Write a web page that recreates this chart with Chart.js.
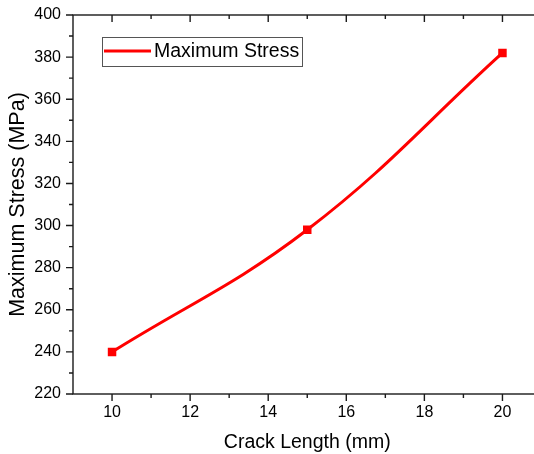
<!DOCTYPE html>
<html>
<head>
<meta charset="utf-8">
<script src="https://cdn.jsdelivr.net/npm/chart.js@4/dist/chart.umd.min.js"></script>
<style>
  html, body { margin: 0; padding: 0; background: #fff; overflow: hidden; }
  #wrap { width: 534px; height: 454px; overflow: hidden; }
  #box { width: 550px; height: 454px; }
</style>
</head>
<body>
<div id="wrap"><div id="box"><canvas id="chart"></canvas></div></div>
<script>
const crackLength = [10, 15, 20];
const maxStress = [240, 298, 382];
const seriesLabel = "Maximum Stress";

const xTicks = [10, 12, 14, 16, 18, 20];
const xMinor = [11, 13, 15, 17, 19];
const yTicks = [220, 240, 260, 280, 300, 320, 340, 360, 380, 400];
const yMinor = [230, 250, 270, 290, 310, 330, 350, 370, 390];

const FONT = "'Liberation Sans', Arial, sans-serif";
const RED = "#ff0000";

// frame, tick marks and legend box, like an Origin plot
const framePlugin = {
    id: "frame",
    afterDraw(chart) {
        const { ctx, chartArea: a, scales } = chart;
        const xs = scales.x, ys = scales.y;
        ctx.save();
        ctx.strokeStyle = "#1a1a1a";
        ctx.lineWidth = 1.4;
        ctx.strokeRect(a.left, a.top, a.right - a.left, a.bottom - a.top);

        ctx.beginPath();
        const tick = (vals, len) => {
            vals.forEach(v => {
                const px = xs.getPixelForValue(v);
                ctx.moveTo(px, a.bottom); ctx.lineTo(px, a.bottom + len);
                ctx.moveTo(px, a.top); ctx.lineTo(px, a.top + len);
            });
        };
        tick(xTicks, 7);
        tick(xMinor, 4);
        const ytick = (vals, len) => {
            vals.forEach(v => {
                const py = ys.getPixelForValue(v);
                ctx.moveTo(a.left, py); ctx.lineTo(a.left - len, py);
            });
        };
        ytick(yTicks, 7);
        ytick(yMinor, 4);
        ctx.stroke();

        // legend
        ctx.strokeStyle = "#555";
        ctx.lineWidth = 1;
        ctx.strokeRect(102.5, 37.5, 200, 29);
        ctx.strokeStyle = RED;
        ctx.lineWidth = 3;
        ctx.beginPath();
        ctx.moveTo(104, 51); ctx.lineTo(151, 51);
        ctx.stroke();
        ctx.fillStyle = "#000";
        ctx.font = "19.5px " + FONT;
        ctx.textBaseline = "middle";
        ctx.fillText(chart.data.datasets[0].label, 154, 51.5);
        ctx.restore();
    }
};

new Chart(document.getElementById("chart"), {
    type: "line",
    data: {
        datasets: [{
            label: seriesLabel,
            data: crackLength.map((x, i) => ({ x, y: maxStress[i] })),
            borderColor: RED,
            backgroundColor: RED,
            borderWidth: 3,
            tension: 0.4,
            pointStyle: "rect",
            pointRadius: 6,
            pointBorderWidth: 0,
            pointHoverRadius: 6
        }]
    },
    options: {
        responsive: true,
        maintainAspectRatio: false,
        animation: false,
        layout: { padding: { top: 15, right: 8.5, left: 0, bottom: 0 } },
        plugins: {
            legend: { display: false },
            tooltip: { enabled: false }
        },
        scales: {
            x: {
                type: "linear",
                min: 9,
                max: 21,
                afterBuildTicks: s => { s.ticks = xTicks.map(v => ({ value: v })); },
                afterFit: s => { s.height = 60; s.paddingLeft = 0; s.paddingRight = 0; },
                grid: { display: false, drawTicks: false },
                border: { display: false },
                ticks: { padding: 9, color: "#000", font: { family: FONT, size: 16 }, maxRotation: 0 },
                title: { display: true, text: "Crack Length (mm)", color: "#000",
                         font: { family: FONT, size: 19.5 }, padding: { top: 0, bottom: 0 } }
            },
            y: {
                min: 220,
                max: 400,
                afterBuildTicks: s => { s.ticks = yTicks.map(v => ({ value: v })); },
                afterFit: s => { s.width = 73; s.paddingTop = 0; s.paddingBottom = 0; },
                grid: { display: false, drawTicks: false },
                border: { display: false },
                ticks: { padding: 12, color: "#000", font: { family: FONT, size: 16 } },
                title: { display: true, text: "Maximum Stress (MPa)", color: "#000",
                         font: { family: FONT, size: 21.5 }, padding: { top: 5, bottom: 0 } }
            }
        }
    },
    plugins: [framePlugin]
});
</script>
</body>
</html>
